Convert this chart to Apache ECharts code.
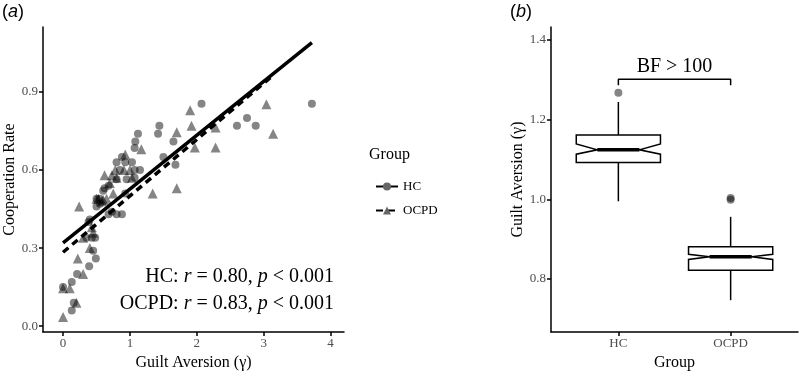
<!DOCTYPE html>
<html>
<head>
<meta charset="utf-8">
<script src="https://cdn.jsdelivr.net/npm/echarts@6/dist/echarts.min.js"></script>
<style>
html,body{margin:0;padding:0;background:#fff}
#main{width:799px;height:376px}
</style>
</head>
<body>
<div id="main"></div>
<script>
// (a) guilt aversion vs cooperation rate, [gamma, rate]
var hcPoints = [
  [0.0,0.15],[0.13,0.06],[0.16,0.09],[0.13,0.17],[0.21,0.2],[0.39,0.23],[0.49,0.26],[0.45,0.29],
  [0.35,0.34],[0.43,0.34],[0.48,0.34],[0.38,0.40],[0.40,0.41],[0.5,0.46],[0.55,0.49],[0.68,0.43],
  [0.73,0.44],[0.8,0.43],[0.88,0.43],[0.6,0.52],[0.62,0.53],[0.68,0.54],[0.93,0.51],[0.8,0.565],
  [0.95,0.565],[1.07,0.57],[1.07,0.6],[1.15,0.6],[0.8,0.63],[0.93,0.63],[1.03,0.63],[0.88,0.65],
  [1.07,0.685],[1.08,0.71],[1.12,0.74],[1.42,0.74],[1.44,0.77],[1.65,0.71],[1.5,0.65],[1.68,0.62],
  [2.07,0.855],[2.6,0.77],[2.75,0.8],[2.88,0.77],[3.72,0.855],[0.55,0.47],[0.5,0.49],[0.85,0.6]
];
var ocpdPoints = [
  [0.0,0.035],[0.2,0.09],[0.0,0.146],[0.1,0.146],[0.3,0.2],[0.22,0.26],[0.3,0.34],[0.43,0.38],
  [0.24,0.46],[0.5,0.49],[0.58,0.48],[0.53,0.49],[0.6,0.485],[0.7,0.55],[0.75,0.51],[0.73,0.58],
  [0.78,0.6],[0.8,0.57],[0.91,0.6],[0.93,0.66],[1.03,0.57],[1.0,0.6],[1.17,0.68],[1.34,0.51],
  [1.7,0.53],[1.7,0.745],[1.9,0.83],[1.92,0.77],[1.97,0.687],[2.28,0.687],[2.28,0.764],
  [3.04,0.853],[3.14,0.74],[0.4,0.3],[0.65,0.49],[0.45,0.36],[0.62,0.58]
];
// fitted lines (end points)
var hcFit = [[0, 0.32], [3.72, 1.09]];
var ocpdFit = [[0, 0.284], [3.12, 0.96]];
var gammaTicks = [0, 1, 2, 3, 4];
var rateTicks = [0, 0.3, 0.6, 0.9];

// (b) notched boxplots
var groups = ['HC', 'OCPD'];
// [whisker low, q1, median, q3, whisker high, notch low, notch high]
var boxStats = [
  [0.995, 1.092, 1.124, 1.161, 1.244, 1.113, 1.139],
  [0.747, 0.822, 0.856, 0.881, 0.956, 0.849, 0.862]
];
var outliers = [[1, 1.267], [2, 1.003], [2, 0.999]];
var gammaBoxTicks = [0.8, 1.0, 1.2, 1.4];
var bfBracket = [[1, 1.286], [1, 1.301], [2, 1.301], [2, 1.286]];
var bfText = [[1.5, 1.333, 'BF > 100']];

var serif = 'Liberation Serif';
var tickLabel = {fontFamily: serif, fontSize: 13, color: '#4d4d4d'};
var axisLine = {onZero: false, lineStyle: {color: '#000', width: 1.5}};
var axisTick = {length: 4, lineStyle: {color: '#000', width: 1.5}};
var ptColor = 'rgba(0,0,0,0.6)';

var myChart = echarts.init(document.getElementById('main'));

var option = {
  animation: false,
  backgroundColor: '#fff',
  grid: [
    {left: 43, top: 27, width: 301, height: 310},
    {left: 551, top: 27, width: 247, height: 310}
  ],
  xAxis: [
    {
      type: 'value', gridIndex: 0, min: -0.3, max: 4.2,
      name: 'Guilt Aversion (\u03b3)', nameLocation: 'middle', nameGap: 22,
      nameTextStyle: {fontFamily: serif, fontSize: 16, color: '#000'},
      axisLine: axisLine, axisTick: Object.assign({customValues: gammaTicks}, axisTick),
      axisLabel: Object.assign({customValues: gammaTicks, margin: 5}, tickLabel),
      splitLine: {show: false}
    },
    {
      type: 'value', gridIndex: 1, min: 0.4, max: 2.6,
      name: 'Group', nameLocation: 'middle', nameGap: 22,
      nameTextStyle: {fontFamily: serif, fontSize: 16, color: '#000'},
      axisLine: axisLine, axisTick: Object.assign({customValues: [1, 2]}, axisTick),
      axisLabel: Object.assign({customValues: [1, 2], margin: 5, formatter: function (v) { return groups[Math.round(v) - 1]; }}, tickLabel),
      splitLine: {show: false}
    }
  ],
  yAxis: [
    {
      type: 'value', gridIndex: 0, min: -0.023, max: 1.15,
      name: 'Cooperation Rate', nameLocation: 'middle', nameGap: 23,
      nameTextStyle: {fontFamily: serif, fontSize: 16, color: '#000'},
      axisLine: axisLine, axisTick: Object.assign({customValues: rateTicks}, axisTick),
      axisLabel: Object.assign({customValues: rateTicks, margin: 5, formatter: function (v) { return v.toFixed(1); }}, tickLabel),
      splitLine: {show: false}
    },
    {
      type: 'value', gridIndex: 1, min: 0.667, max: 1.432,
      name: 'Guilt Aversion (\u03b3)', nameLocation: 'middle', nameGap: 23,
      nameTextStyle: {fontFamily: serif, fontSize: 16, color: '#000'},
      axisLine: axisLine, axisTick: Object.assign({customValues: gammaBoxTicks}, axisTick),
      axisLabel: Object.assign({customValues: gammaBoxTicks, margin: 5, formatter: function (v) { return v.toFixed(1); }}, tickLabel),
      splitLine: {show: false}
    }
  ],
  legend: {
    orient: 'vertical', left: 370, top: 175, itemWidth: 22, itemHeight: 10, itemGap: 11,
    data: ['HC', 'OCPD'],
    textStyle: {fontFamily: serif, fontSize: 13, color: '#000'},
    selectedMode: false
  },
  graphic: [
    {type: 'text', left: 2, top: 3, style: {text: '{n|(}{i|a}{n|)}', rich: {
      n: {fontFamily: 'Liberation Sans', fontSize: 18, fill: '#000'},
      i: {fontFamily: 'Liberation Sans', fontSize: 18, fontStyle: 'italic', fill: '#000'}}}},
    {type: 'text', left: 510, top: 3, style: {text: '{n|(}{i|b}{n|)}', rich: {
      n: {fontFamily: 'Liberation Sans', fontSize: 18, fill: '#000'},
      i: {fontFamily: 'Liberation Sans', fontSize: 18, fontStyle: 'italic', fill: '#000'}}}},
    {type: 'text', left: 369, top: 147, style: {text: 'Group', fontFamily: serif, fontSize: 16, fill: '#000'}},
    {type: 'text', x: 334, y: 277, style: {text: '{n|HC: }{i|r}{n| = 0.80, }{i|p}{n| < 0.001}', align: 'right', verticalAlign: 'middle', rich: {
      n: {fontFamily: serif, fontSize: 20, fill: '#000'},
      i: {fontFamily: serif, fontSize: 20, fontStyle: 'italic', fill: '#000'}}}},
    {type: 'text', x: 334, y: 304, style: {text: '{n|OCPD: }{i|r}{n| = 0.83, }{i|p}{n| < 0.001}', align: 'right', verticalAlign: 'middle', rich: {
      n: {fontFamily: serif, fontSize: 20, fill: '#000'},
      i: {fontFamily: serif, fontSize: 20, fontStyle: 'italic', fill: '#000'}}}}
  ],
  series: [
    {
      name: 'HC', type: 'line', xAxisIndex: 0, yAxisIndex: 0, data: hcFit,
      symbol: 'circle', symbolSize: 8, showSymbol: false, z: 5,
      itemStyle: {color: '#666'}, lineStyle: {color: '#000', width: 3.5}
    },
    {
      name: 'OCPD', type: 'line', xAxisIndex: 0, yAxisIndex: 0, data: ocpdFit,
      symbol: 'triangle', symbolSize: 9, showSymbol: false, z: 4,
      itemStyle: {color: '#666'}, lineStyle: {color: '#000', width: 3.5, type: [7, 5]}
    },
    {
      name: 'HC', type: 'scatter', xAxisIndex: 0, yAxisIndex: 0, data: hcPoints,
      symbol: 'circle', symbolSize: 8, itemStyle: {color: ptColor}, z: 3
    },
    {
      name: 'OCPD', type: 'scatter', xAxisIndex: 0, yAxisIndex: 0, data: ocpdPoints,
      symbol: 'triangle', symbolSize: 10, itemStyle: {color: ptColor}, z: 3
    },
    {
      type: 'custom', xAxisIndex: 1, yAxisIndex: 1,
      data: boxStats.map(function (s, i) { return [i + 1].concat(s); }),
      renderItem: function (params, api) {
        var x = api.value(0);
        var lo = api.value(1), q1 = api.value(2), med = api.value(3), q3 = api.value(4),
            hi = api.value(5), nlo = api.value(6), nhi = api.value(7);
        var hw = 0.375, nw = 0.1875;
        function p(dx, v) { return api.coord([x + dx, v]); }
        var stroke = {stroke: '#000', lineWidth: 1.5, fill: 'none'};
        return {
          type: 'group',
          children: [
            {type: 'polyline', shape: {points: [p(0, q3), p(0, hi)]}, style: stroke},
            {type: 'polyline', shape: {points: [p(0, q1), p(0, lo)]}, style: stroke},
            {type: 'polygon', shape: {points: [
              p(-hw, q1), p(-hw, nlo), p(-nw, med), p(-hw, nhi), p(-hw, q3),
              p(hw, q3), p(hw, nhi), p(nw, med), p(hw, nlo), p(hw, q1)
            ]}, style: {stroke: '#000', lineWidth: 1.5, fill: '#fff'}},
            {type: 'polyline', shape: {points: [p(-nw, med), p(nw, med)]}, style: {stroke: '#000', lineWidth: 3.5, fill: 'none'}}
          ]
        };
      }
    },
    {
      type: 'scatter', xAxisIndex: 1, yAxisIndex: 1, data: outliers,
      symbol: 'circle', symbolSize: 8, itemStyle: {color: ptColor}
    },
    {
      type: 'line', xAxisIndex: 1, yAxisIndex: 1, data: bfBracket,
      showSymbol: false, symbol: 'none', lineStyle: {color: '#000', width: 1.5}
    },
    {
      type: 'custom', xAxisIndex: 1, yAxisIndex: 1, data: bfText,
      renderItem: function (params, api) {
        var pt = api.coord([api.value(0), api.value(1)]);
        return {type: 'text', x: pt[0], y: pt[1], style: {
          text: bfText[params.dataIndex][2], fontFamily: serif, fontSize: 20, fill: '#000',
          align: 'center', verticalAlign: 'middle'}};
      }
    }
  ]
};

myChart.setOption(option);
</script>
</body>
</html>
